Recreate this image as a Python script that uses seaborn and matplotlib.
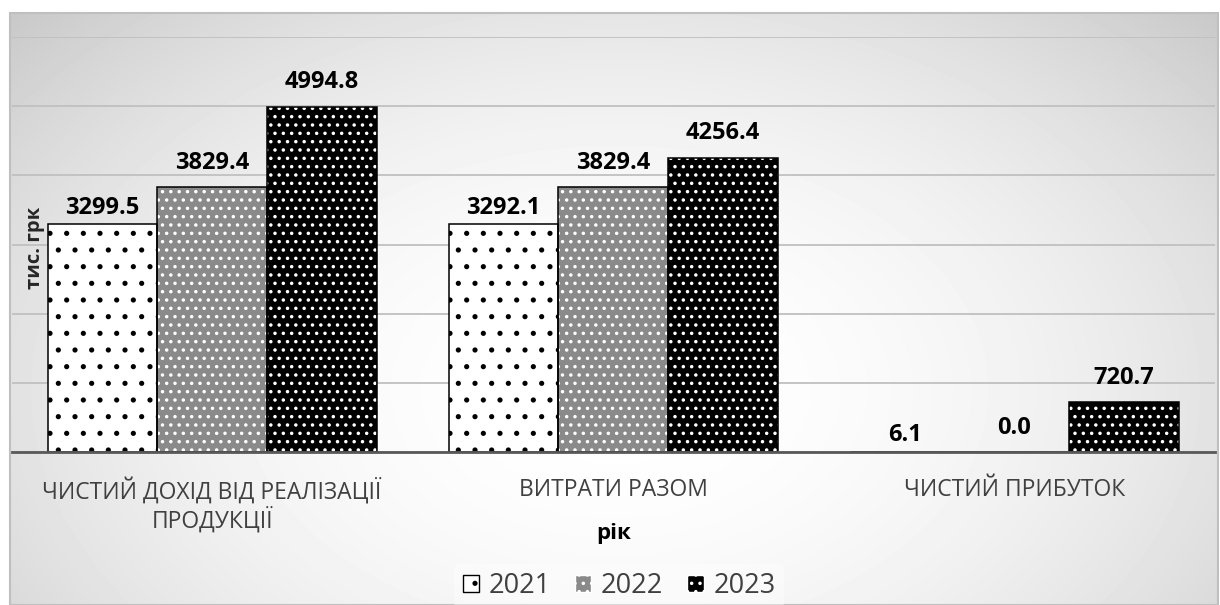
import numpy as np
import pandas as pd
import matplotlib
matplotlib.use('Agg')
import matplotlib.pyplot as plt
from matplotlib.patches import Patch, Rectangle
import seaborn as sns

# data (тис. грн)
categories = ['ЧИСТИЙ ДОХІД ВІД РЕАЛІЗАЦІЇ\nПРОДУКЦІЇ', 'ВИТРАТИ РАЗОМ', 'ЧИСТИЙ ПРИБУТОК']
years = ['2021', '2022', '2023']
values_2021 = [3299.5, 3292.1, 6.1]
values_2022 = [3829.4, 3829.4, 0.0]
values_2023 = [4994.8, 4256.4, 720.7]

face_colors = ['white', '#8a8a8a', 'black']
hatch_colors = ['black', 'white', 'white']
hatches = ['.', '..', '..']
label_pads = [3, 9, 9]

sns.set_theme(style='white')
plt.rcParams['font.family'] = ['Open Sans', 'DejaVu Sans']
plt.rcParams['hatch.linewidth'] = 1.3

df = pd.DataFrame({
    'category': categories * 3,
    'year': np.repeat(years, 3),
    'value': values_2021 + values_2022 + values_2023,
})

W, H = 1220, 605
fig = plt.figure(figsize=(W / 100, H / 100), dpi=100)
fig.patch.set_facecolor('white')

# soft radial grey background like the office chart
bg = fig.add_axes([10 / W, 0, 1208 / W, 592 / H], zorder=0)
yy, xx = np.mgrid[0:592, 0:1208]
r2 = ((xx - 605) / 610) ** 2 + ((yy - 377) / 400) ** 2
shade = 1 - 0.115 * r2
bg.imshow(shade, cmap='gray', vmin=0, vmax=1, aspect='auto', extent=[0, 1, 0, 1], origin='upper')
bg.set_axis_off()
bg.add_patch(Rectangle((0, 0), 1, 1, transform=bg.transAxes, fill=False,
                       ec='#bfbfbf', lw=1.5, clip_on=False))

ax = fig.add_axes([11.5 / W, (H - 452) / H, 1203.5 / W, 415 / H], zorder=1)
ax.patch.set_alpha(0)

sns.barplot(data=df, x='category', y='value', hue='year', ax=ax, width=0.82,
            palette=face_colors, saturation=1, edgecolor='black', linewidth=1.1,
            errorbar=None, legend=False)

for i, cont in enumerate(ax.containers):
    for bar in cont:
        bar.set_hatch(hatches[i])
        bar.set_edgecolor(hatch_colors[i])
        bar.set_linewidth(0)
        ax.add_patch(Rectangle(bar.get_xy(), bar.get_width(), bar.get_height(), fill=False,
                               ec='black', lw=1.1, zorder=bar.get_zorder() + 0.1))
    ax.bar_label(cont, fmt='%.1f', padding=label_pads[i], fontsize=17,
                 fontweight='bold', color='black')

ax.set_ylim(0, 6000)
ax.set_xlim(-0.5, 2.5)
ax.set_yticks(range(0, 7000, 1000))
ax.yaxis.grid(True, color='#c0c0c0', lw=1.3)
ax.set_axisbelow(True)
ax.tick_params(axis='y', left=False, labelleft=False)
ax.tick_params(axis='x', bottom=False, pad=13, labelsize=16.5, labelcolor='#404040')
for lbl in ax.get_xticklabels():
    lbl.set_linespacing(1.1)
for s in ['top', 'right', 'left']:
    ax.spines[s].set_visible(False)
ax.spines['bottom'].set_color('#595959')
ax.spines['bottom'].set_linewidth(2)

ax.set_ylabel('')
ax.set_xlabel('рік', fontsize=16, fontweight='bold', color='black')
ax.xaxis.set_label_coords(0.5, -(533 - 452) / 415)
ax.xaxis.label.set_va('center')

fig.text(35 / W, 1 - 248 / H, 'тис. грк', rotation=90, fontsize=14.5, fontweight='bold',
         ha='center', va='center')

handles = []
for i in range(3):
    try:
        h = Patch(facecolor=face_colors[i], edgecolor='black', hatch=hatches[i],
                  hatchcolor=hatch_colors[i], lw=1)
    except Exception:
        h = Patch(facecolor=face_colors[i], edgecolor=hatch_colors[i], hatch=hatches[i], lw=1)
    handles.append(h)
leg = fig.legend(handles, years, loc='center', bbox_to_anchor=(619 / W, 1 - 586 / H), ncol=3,
                 frameon=True, fontsize=19.5, handlelength=0.6, handleheight=0.6,
                 handletextpad=0.35, columnspacing=0.9, labelcolor='#404040', borderpad=0.3)
leg.get_frame().set_facecolor('white')
leg.get_frame().set_alpha(0.4)
leg.get_frame().set_edgecolor('none')

fig.savefig('out.png', dpi=100)
